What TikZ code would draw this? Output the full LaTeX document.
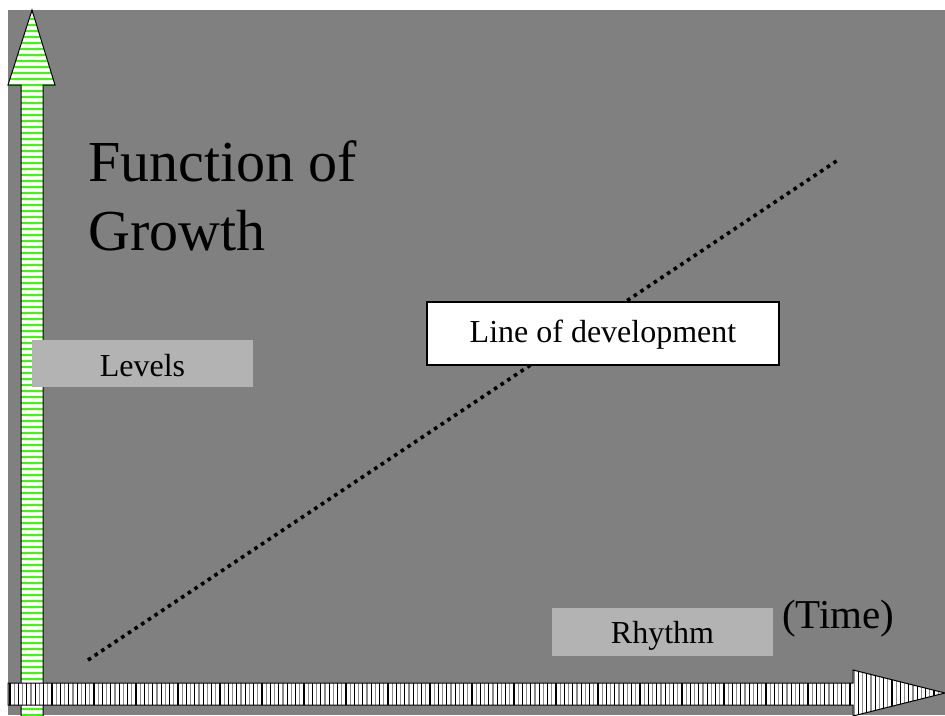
\documentclass[tikz,border=0pt]{standalone}
\usepackage{fontspec}
\setmainfont{Liberation Serif}
\definecolor{bggray}{RGB}{128,128,128}
\definecolor{boxgray}{RGB}{179,179,179}
\definecolor{stripegreen}{RGB}{51,255,0}
\begin{document}
\begin{tikzpicture}[x=1pt,y=-1pt,
  txt/.style={inner sep=0pt,text=black},
  graybox/.style={fill=boxgray,draw=none,inner sep=0pt,font=\fontsize{32}{37}\selectfont},
  whitebox/.style={fill=white,draw=black,line width=1.5pt,inner sep=0pt,font=\fontsize{32}{37}\selectfont},
  arrowline/.style={draw=black,line width=1pt,line join=miter},
  dotline/.style={line width=3.6pt,dash pattern=on 3.6pt off 4.4pt,line cap=butt}]
\useasboundingbox (0,0) rectangle (945,715);
\fill[white] (0,0) rectangle (945,715);
\fill[bggray] (8,10) rectangle (945,715);
% vertical arrow
\begin{scope}
  \path[clip] (21,716)--(21,85)--(8,85)--(32,10)--(55,85)--(43,85)--(43,716)--cycle;
  \fill[white] (0,0) rectangle (60,716);
  \foreach \y in {13,19,...,715} {\draw[stripegreen,line width=1.4pt] (0,\y)--(60,\y);}
\end{scope}
\draw[arrowline] (21,716)--(21,85)--(8,85)--(32,10)--(55,85)--(43,85)--(43,716);
% dotted line
\coordinate (ds) at (88,660);
\coordinate (de) at (838,160);
\draw[dotline] (ds)--(de);
% horizontal arrow
\begin{scope}
  \path[clip] (8,683)--(853,683)--(853,670)--(945,693)--(853,716)--(853,705)--(8,705)--cycle;
  \fill[white] (0,660) rectangle (945,716);
  \foreach \i in {0,...,224} {
    \pgfmathsetmacro{\xx}{10+4.2*\i}
    \ifodd\i
      \draw[black!45,line width=1.1pt] (\xx,660)--(\xx,716);
    \else
      \draw[black,line width=1.1pt] (\xx,660)--(\xx,716);
    \fi}
\end{scope}
\draw[arrowline] (8,683)--(853,683)--(853,670)--(945,693)--(853,716)--(853,705)--(8,705)--cycle;
% texts
\node[txt,anchor=base west,font=\fontsize{58}{69}\selectfont] (f1) at (88,181) {Function of};
\node[txt,anchor=base west,font=\fontsize{58}{69}\selectfont] (f2) at (88,250) {Growth};
\node[graybox,minimum width=221pt,minimum height=47pt,text height=25pt,text depth=0pt] (levels) at (142.5,363.5) {Levels};
\node[whitebox,minimum width=352pt,minimum height=63pt,text height=17pt,text depth=0pt] (lod) at (603,333.5) {Line of development};
\node[graybox,minimum width=221pt,minimum height=48pt,text height=22pt,text depth=0pt] (rhythm) at (662.5,632) {Rhythm};
\node[txt,anchor=base west,font=\fontsize{41}{48}\selectfont] (time) at (782,628) {(Time)};
\end{tikzpicture}
\end{document}
